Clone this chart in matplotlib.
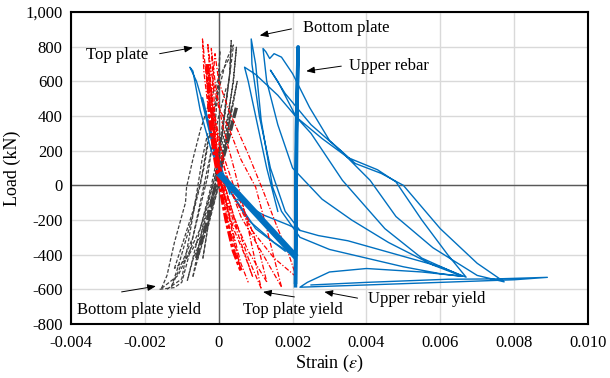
import matplotlib
matplotlib.use("Agg")
import matplotlib.pyplot as plt
from matplotlib.ticker import FuncFormatter

plt.rcParams['font.family'] = ['Liberation Serif', 'DejaVu Serif']
plt.rcParams['mathtext.fontset'] = 'stix'

# strain gauge readings, (strain, load kN), one list per cycle
bottom_plate = [
    [(0.0, 0), (0.0002, 250), (0.00035, 450), (0.0002, 250), (0.0, 0), (-0.0003, -250), (-0.00043, -422)],
    [(-0.00043, -422), (-0.0003, -250), (-0.0001, 0), (0.0002, 300), (0.0004, 500), (0.0005, 600),
     (0.0004, 480), (0.0002, 250), (0.0, 0), (-0.0003, -230), (-0.0006, -450), (-0.0007, -528)],
    [(-0.0007, -528), (-0.0006, -420), (-0.0004, -200), (-0.0001, 50), (0.0002, 350), (0.0004, 600),
     (0.00048, 797), (0.0004, 620), (0.0002, 300), (0.0, 20), (-0.0003, -220), (-0.0007, -430),
     (-0.00085, -550)],
    [(-0.00085, -550), (-0.0007, -420), (-0.0005, -250), (-0.0002, 0), (0.0001, 300), (0.0003, 650),
     (0.00034, 836), (0.0003, 650), (0.0001, 300), (-0.0001, 0), (-0.0005, -300), (-0.0009, -430),
     (-0.0012, -480)],
    [(-0.0012, -480), (-0.0010, -350), (-0.0007, -150), (-0.0004, 100), (-0.0002, 350), (0.0, 600),
     (0.00003, 778), (0.0, 600), (-0.0001, 350), (-0.0003, 50), (-0.0007, -300), (-0.0011, -500),
     (-0.00128, -586)],
    [(-0.00128, -586), (-0.0011, -470), (-0.0008, -250), (-0.0005, 0), (-0.0003, 250), (0.0, 550),
     (0.0002, 720), (0.0004, 810), (0.0003, 640), (0.0001, 350), (-0.0001, 50), (-0.0005, -250),
     (-0.0011, -520), (-0.00155, -595)],
    [(-0.00155, -595), (-0.0014, -520), (-0.0012, -330), (-0.0009, -100), (-0.00087, -10),
     (-0.0007, 150), (-0.0005, 317), (-0.0003, 450), (0.0, 620), (0.0003, 740)],
    [(-0.0016, -600), (-0.0012, -590), (-0.0010, -560), (-0.0008, -400), (-0.0006, -200),
     (-0.0003, 100), (0.0, 400), (0.0002, 560)],
    [(-0.0014, -600), (-0.0010, -540), (-0.0008, -300), (-0.0006, -50), (-0.00045, 150), (-0.0003, 300)],
]
bottom_band = [(-0.0006, -420), (-0.0003, -200), (-0.0001, -10), (0.0002, 220), (0.00048, 450)]

top_plate = [
    [(0.0, 0), (-0.0001, 200), (-0.0002, 450), (-0.0001, 300), (0.0001, 0), (0.0003, -200), (0.0005, -250)],
    [(0.0005, -250), (0.0003, -100), (0.0, 100), (-0.0002, 400), (-0.00035, 700), (-0.0003, 550),
     (-0.0001, 250), (0.0001, -50), (0.0003, -250), (0.0005, -400), (0.0006, -490)],
    [(0.0006, -490), (0.0004, -300), (0.0001, -20), (-0.0001, 250), (-0.0003, 550), (-0.00044, 845),
     (-0.0004, 650), (-0.0002, 300), (0.0001, -20), (0.0004, -250), (0.0007, -400), (0.00092, -528)],
    [(0.00092, -528), (0.0006, -330), (0.0002, -80), (-0.0001, 250), (-0.0002, 550), (-0.0003, 820),
     (-0.0002, 650), (0.0, 450), (0.0003, 317), (0.0006, 150), (0.001, -10), (0.0013, -250),
     (0.0015, -420), (0.0017, -586)],
    [(0.0017, -586), (0.0012, -400), (0.0006, -180), (0.0002, 50), (-0.0001, 400), (-0.0002, 790),
     (-0.0001, 600), (0.0001, 350), (0.00043, 86), (0.0007, -150), (0.0009, -350), (0.00115, -595)],
    [(0.00115, -595), (0.0008, -420), (0.0004, -170), (0.0, 120), (-0.0002, 500), (-0.0001, 760),
     (0.0, 600), (0.0003, 420), (0.0008, 180), (0.0012, -30), (0.0016, -250), (0.0019, -400),
     (0.0021, -528)],
    [(0.0021, -528), (0.0015, -420), (0.0009, -260), (0.0004, -60), (0.0, 200), (-0.00025, 650),
     (-0.0002, 500), (0.0, 250), (0.0004, 0), (0.0008, -200), (0.0011, -380), (0.0013, -557)],
    [(0.0013, -557), (0.0008, -380), (0.0003, -130), (-0.0001, 250), (-0.0003, 700), (-0.00025, 500),
     (-0.0001, 250), (0.0001, 0), (0.0004, -280), (0.0006, -450), (0.0008, -560)],
]
top_band = [(-0.0003, 700), (-0.00025, 400), (-0.0001, 150), (0.0, 30), (0.0002, -200),
            (0.0004, -380), (0.0006, -490)]

rebar_loops = [
    [(0.0003, -50), (0.0, 150), (-0.0003, 380), (-0.0006, 600), (-0.00078, 682), (-0.0007, 660),
     (-0.0005, 432), (-0.0002, 200), (0.00003, 86), (0.0003, -30)],
    [(0.0016, -150), (0.0013, 100), (0.0010, 400), (0.0008, 600), (0.0007, 682), (0.0010, 640),
     (0.0016, 520), (0.0021, 394), (0.0028, 270), (0.0035, 160), (0.0043, 90), (0.0048, 20),
     (0.0055, -200), (0.0062, -400), (0.0067, -530), (0.0060, -470), (0.0045, -380), (0.0035, -320),
     (0.0027, -290), (0.0022, -260), (0.0018, -150), (0.0014, 100), (0.0011, 400), (0.0009, 700),
     (0.00088, 845), (0.0010, 700), (0.00115, 375), (0.00146, -10), (0.0017, -150), (0.0022, -300),
     (0.0030, -370), (0.0040, -420), (0.0050, -470), (0.0060, -510), (0.0066, -525), (0.0058, -460),
     (0.0046, -330), (0.0036, -200), (0.0028, -80), (0.0020, 100), (0.0016, 350), (0.0013, 600),
     (0.0012, 790), (0.00128, 770), (0.00138, 732), (0.0015, 760), (0.0017, 740), (0.0020, 645),
     (0.00246, 450), (0.0030, 259), (0.0037, 126), (0.0044, 69), (0.0050, 0), (0.0060, -250),
     (0.0070, -450), (0.00773, -557), (0.0070, -520), (0.0058, -360), (0.0048, -180), (0.0041, 29),
     (0.0033, 200), (0.0025, 350), (0.0018, 530), (0.0014, 665), (0.0016, 600), (0.0021, 394),
     (0.0025, 300), (0.00335, 29), (0.0045, -250), (0.0055, -420), (0.0066, -525), (0.0055, -500),
     (0.0040, -480), (0.0030, -500), (0.0024, -560), (0.0022, -588), (0.0040, -575), (0.0060, -560),
     (0.0080, -545), (0.0089, -531), (0.0075, -540), (0.0062, -542), (0.0040, -560), (0.0025, -575)],
    [(0.0002, 0), (0.0008, -200), (0.0015, -330), (0.0020, -400)],
    [(0.0003, -30), (0.0010, -250), (0.0018, -380)],
    [(0.0005, -80), (0.0012, -170), (0.0019, -230), (0.0022, -260)],
]
rebar_band = [(0.0, 70), (0.001, -160), (0.0021, -415)]
rebar_upper = [(-0.00045, 500), (-0.0002, 280), (0.0, 90)]
rebar_vertical = [(0.00208, -560), (0.0021, 0), (0.00212, 400), (0.00215, 800), (0.0021, 300), (0.00208, -580)]

x_ticks = [-0.004, -0.002, 0, 0.002, 0.004, 0.006, 0.008, 0.010]
y_ticks = [-800, -600, -400, -200, 0, 200, 400, 600, 800, 1000]

BLUE = '#0070C0'
RED = '#FF0000'
GREY = '#404040'


def xy(pts):
    return [p[0] for p in pts], [p[1] for p in pts]


fig = plt.figure(figsize=(6.1, 3.78), dpi=100)
ax = fig.add_axes([0.1164, 0.143, 0.8475, 0.825])

ax.grid(True, color='#d9d9d9', lw=1)
ax.set_axisbelow(True)
ax.axhline(0, color='#595959', lw=1, zorder=1)
ax.axvline(0, color='#595959', lw=1, zorder=1)

for loop in bottom_plate:
    ax.plot(*xy(loop), color=GREY, lw=0.9, dashes=(3, 1.5))
ax.plot(*xy(bottom_band), color=GREY, lw=2.5, dashes=(3, 0.8))

for loop in rebar_loops:
    ax.plot(*xy(loop), color=BLUE, lw=1)
ax.plot(*xy(rebar_upper), color=BLUE, lw=2)

for loop in top_plate:
    ax.plot(*xy(loop), color=RED, lw=0.9, dashes=(4, 1.5, 1, 1.5))
ax.plot(*xy(top_band), color=RED, lw=2.5, dashes=(3, 0.7, 1, 0.7))

ax.plot(*xy(rebar_band), color=BLUE, lw=4.5, solid_capstyle='butt')
ax.plot(*xy(rebar_vertical), color=BLUE, lw=2.5)

ax.set_xlim(-0.004, 0.010)
ax.set_ylim(-800, 1000)
ax.set_xticks(x_ticks)
ax.set_yticks(y_ticks)
ax.xaxis.set_major_formatter(FuncFormatter(lambda v, p: '0' if abs(v) < 1e-9 else '%.3f' % v))
ax.yaxis.set_major_formatter(FuncFormatter(lambda v, p: '{:,.0f}'.format(v)))
ax.tick_params(length=0, labelsize=12)
ax.tick_params(axis='x', pad=8)
ax.tick_params(axis='y', pad=6)
for s in ax.spines.values():
    s.set_linewidth(1.5)
    s.set_color('black')

ax.set_xlabel(r'Strain ($\varepsilon$)', fontsize=13, labelpad=1)
ax.set_ylabel('Load (kN)', fontsize=13, labelpad=3)

# labels with their pointer arrows
arrow = dict(arrowstyle='-|>,head_length=0.5,head_width=0.2', color='black', lw=0.7,
             shrinkA=0, shrinkB=0)
fs = 12
ax.text(-0.0019, 755, 'Top plate', fontsize=fs, ha='right', va='center')
ax.annotate('', xy=(-0.0007, 795), xytext=(-0.0016, 760), arrowprops=arrow)
ax.text(0.00227, 910, 'Bottom plate', fontsize=fs, ha='left', va='center')
ax.annotate('', xy=(0.00111, 865), xytext=(0.00197, 903), arrowprops=arrow)
ax.text(0.00354, 690, 'Upper rebar', fontsize=fs, ha='left', va='center')
ax.annotate('', xy=(0.00237, 659), xytext=(0.00332, 688), arrowprops=arrow)
ax.text(-0.00384, -720, 'Bottom plate yield', fontsize=fs, ha='left', va='center')
ax.annotate('', xy=(-0.0017, -582), xytext=(-0.00263, -615), arrowprops=arrow)
ax.text(0.00065, -720, 'Top plate yield', fontsize=fs, ha='left', va='center')
ax.annotate('', xy=(0.0012, -615), xytext=(0.00205, -644), arrowprops=arrow)
ax.text(0.00403, -657, 'Upper rebar yield', fontsize=fs, ha='left', va='center')
ax.annotate('', xy=(0.00286, -615), xytext=(0.00376, -651), arrowprops=arrow)

fig.savefig('out.png', dpi=100)
